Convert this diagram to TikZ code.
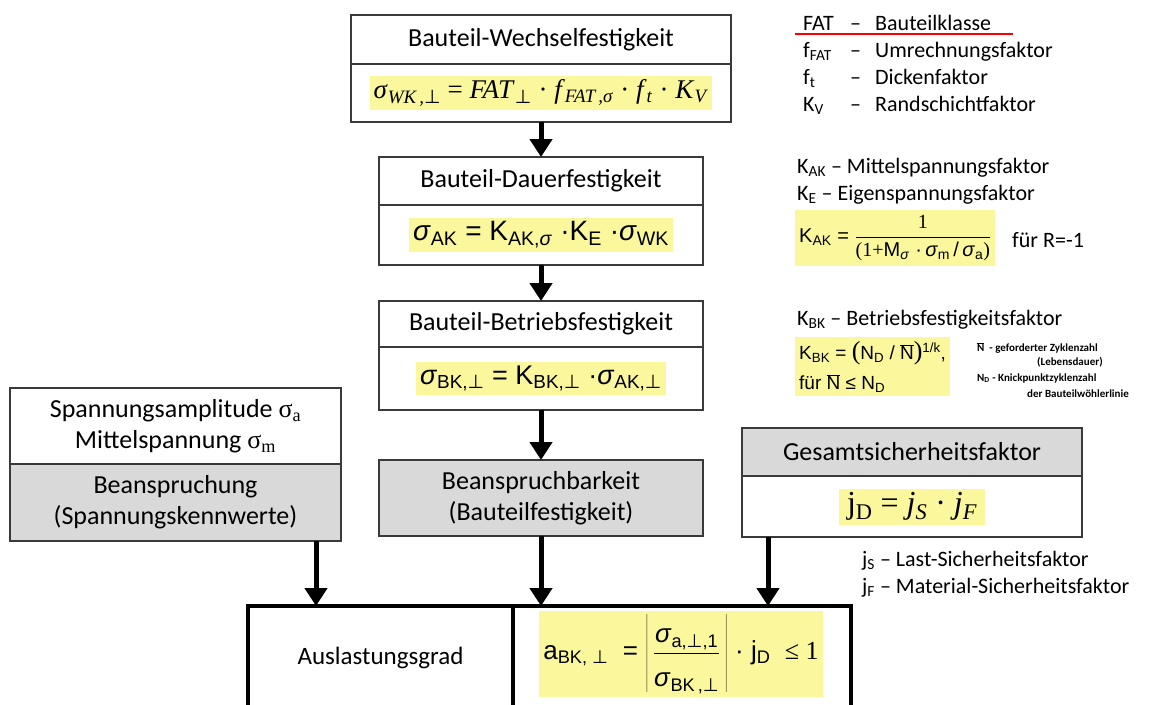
\documentclass[tikz,border=0pt]{standalone}
\usepackage{fontspec}
\setmainfont{Carlito}
\newfontfamily\timesf{Liberation Serif}
\newfontfamily\arialf{Liberation Sans}
\newfontfamily\dejavuf{DejaVu Sans}
\usetikzlibrary{arrows.meta, positioning}

\definecolor{boxgray}{HTML}{D9D9D9}
\definecolor{boxline}{HTML}{3A3A3A}
\definecolor{hiliteyellow}{HTML}{FAF79C}

\newcommand{\lo}[1]{\textsubscript{#1}}
\newcommand{\perpsign}{{\dejavuf ⊥}}
\newcommand{\isig}{\textit{σ}}
\newcommand{\nbar}{$\overline{\mbox{N}}$}

\begin{document}
\begin{tikzpicture}[x=1pt, y=-1pt,
        box/.style={draw=boxline, line width=1.2pt, inner sep=0pt, outer sep=0pt, align=center, font=\fontsize{26}{31}\selectfont},
        frame/.style={draw=black, line width=4pt, inner sep=0pt, outer sep=0pt, minimum height=104pt, font=\fontsize{25}{31}\selectfont},
        hilite/.style={fill=hiliteyellow, inner sep=4pt},
        flow/.style={-{Triangle[width=22pt, length=18pt]}, line width=5pt},
        note/.style={anchor=base west, inner sep=0pt, font=\fontsize{22}{27}\selectfont},
        smallnote/.style={anchor=west, inner sep=0pt, font=\fontsize{11}{13}\selectfont\bfseries}
    ]
        \useasboundingbox[fill=white] (0,0) rectangle (1155,704);

        % Main column
        \node[box, minimum width=380pt, minimum height=49pt] (wk) at (541,39.5) {Bauteil-Wechselfestigkeit};
        \node[box, minimum width=380pt, minimum height=58pt, below=0pt of wk] (wkrow) {};
        \node[hilite, font=\timesf\fontsize{27}{30}\selectfont] (wkf) at (wkrow) {\textit{σ}\lo{\textit{WK\,,}\perpsign} = \textit{FAT}\lo{\perpsign} · \textit{f}\lo{\textit{FAT\,,σ}} · \textit{f}\lo{\textit{t}} · \textit{K}\lo{\textit{V}}};

        \node[box, minimum width=324pt, minimum height=48pt] (dk) at (541,181) {Bauteil-Dauerfestigkeit};
        \node[box, minimum width=324pt, minimum height=60pt, below=0pt of dk] (dkrow) {};
        \node[hilite, font=\arialf\fontsize{28}{30}\selectfont] (dkf) at (dkrow) {\isig\lo{AK} = K\lo{AK,\isig} ·K\lo{E} ·\isig\lo{WK}};

        \node[box, minimum width=324pt, minimum height=46pt] (bk) at (541,324) {Bauteil-Betriebsfestigkeit};
        \node[box, minimum width=324pt, minimum height=63pt, below=0pt of bk] (bkrow) {};
        \node[hilite, font=\arialf\fontsize{27}{30}\selectfont] (bkf) at (bkrow) {\isig\lo{BK,\perpsign} = K\lo{BK,\perpsign} ·\isig\lo{AK,\perpsign}};

        \node[box, fill=boxgray, minimum width=324pt, minimum height=76pt] (bb) at (541,498) {Beanspruchbarkeit\\(Bauteilfestigkeit)};

        % Left and right inputs
        \node[box, minimum width=331pt, minimum height=76pt] (ampl) at (175.5,426) {Spannungsamplitude {\timesf σ\lo{a}}\\Mittelspannung {\timesf σ\lo{m}}};
        \node[box, fill=boxgray, minimum width=331pt, minimum height=77pt, below=0pt of ampl] (bean) {Beanspruchung\\(Spannungskennwerte)};

        \node[box, fill=boxgray, minimum width=340pt, minimum height=48pt] (gsf) at (912,452) {Gesamtsicherheitsfaktor};
        \node[box, minimum width=340pt, minimum height=61pt, below=0pt of gsf] (gsfrow) {};
        \node[hilite, inner xsep=8pt, font=\timesf\fontsize{32}{34}\selectfont] (gsff) at (gsfrow) {j\lo{D} = \textit{j\lo{S}} · \textit{j\lo{F}}};

        % Result
        \node[frame, minimum width=265pt] (ausl) at (380.5,658) {Auslastungsgrad};
        \node[frame, minimum width=338pt, right=0pt of ausl] (auslrow) {};
        \node[hilite, minimum height=86pt, font=\arialf\fontsize{26}{30}\selectfont] (auslf) at (681,654) {a\lo{BK, \perpsign} \ = $\displaystyle\left|\,\frac{\mbox{\isig\lo{a,\perpsign,1}\rule[-6pt]{0pt}{6pt}}}{\mbox{\rule{0pt}{32pt}\isig\lo{BK\,,\perpsign}}}\,\right|$ · j\lo{D} \ {\timesf ≤ 1}};

        \coordinate (inL) at (316,606);
        \coordinate (inR) at (768,606);

        \draw[flow] (wkrow.south) -- (dk.north);
        \draw[flow] (dkrow.south) -- (bk.north);
        \draw[flow] (bkrow.south) -- (bb.north);
        \draw[flow] (bb.south) -- (bb.south |- auslrow.north);
        \draw[flow] (bean.south -| inL) -- (inL);
        \draw[flow] (gsfrow.south -| inR) -- (inR);

        % Notes on the right
        \node[note] (legwk) at (803,30) {\begin{tabular}[t]{@{}p{47pt}@{}p{25pt}@{}l@{}}FAT & – & Bauteilklasse\\ f\lo{FAT} & – & Umrechnungsfaktor\\ f\lo{t} & – & Dickenfaktor\\ K\lo{V} & – & Randschichtfaktor\end{tabular}};
        \draw[red, line width=2pt] (795,34) -- (1013,34);

        \node[note] (legak) at (797,173) {\begin{tabular}[t]{@{}l@{}}K\lo{AK} – Mittelspannungsfaktor\\ K\lo{E} – Eigenspannungsfaktor\end{tabular}};
        \node[hilite, anchor=west, minimum height=56pt, font=\arialf\fontsize{20}{22}\selectfont] (kakf) at (795,238) {K\lo{AK} = $\displaystyle\frac{\mbox{\timesf 1}}{\mbox{\timesf(1+\arialf M\lo{\isig} ·\,\isig\lo{m}\,/\,\isig\lo{a}\timesf)}}$};
        \node[note, anchor=west] (rneg) at (1012,240) {für R=-1};

        \node[note] (legbk) at (797,325) {K\lo{BK} – Betriebsfestigkeitsfaktor};
        \node[hilite, anchor=north west, align=left, font=\arialf\fontsize{19}{30}\selectfont] (kbkf) at (795,337) {K\lo{BK} = {\timesf\fontsize{26}{26}\selectfont(}N\lo{D} / \nbar{\timesf\fontsize{26}{26}\selectfont)}\textsuperscript{1/k},\\ für \nbar{} ≤ N\lo{D}};

        \node[smallnote] (nreq) at (977,348) {\nbar{} \ - geforderter Zyklenzahl};
        \node[smallnote] (nlife) at (1037,362) {(Lebensdauer)};
        \node[smallnote] (nknee) at (977,378) {N\lo{D} - Knickpunktzyklenzahl};
        \node[smallnote] (nline) at (1027,394) {der Bauteilwöhlerlinie};

        \node[note] (legj) at (862,566) {\begin{tabular}[t]{@{}l@{}}j\lo{S} – Last-Sicherheitsfaktor\\ j\lo{F} – Material-Sicherheitsfaktor\end{tabular}};
    \end{tikzpicture}
\end{document}
